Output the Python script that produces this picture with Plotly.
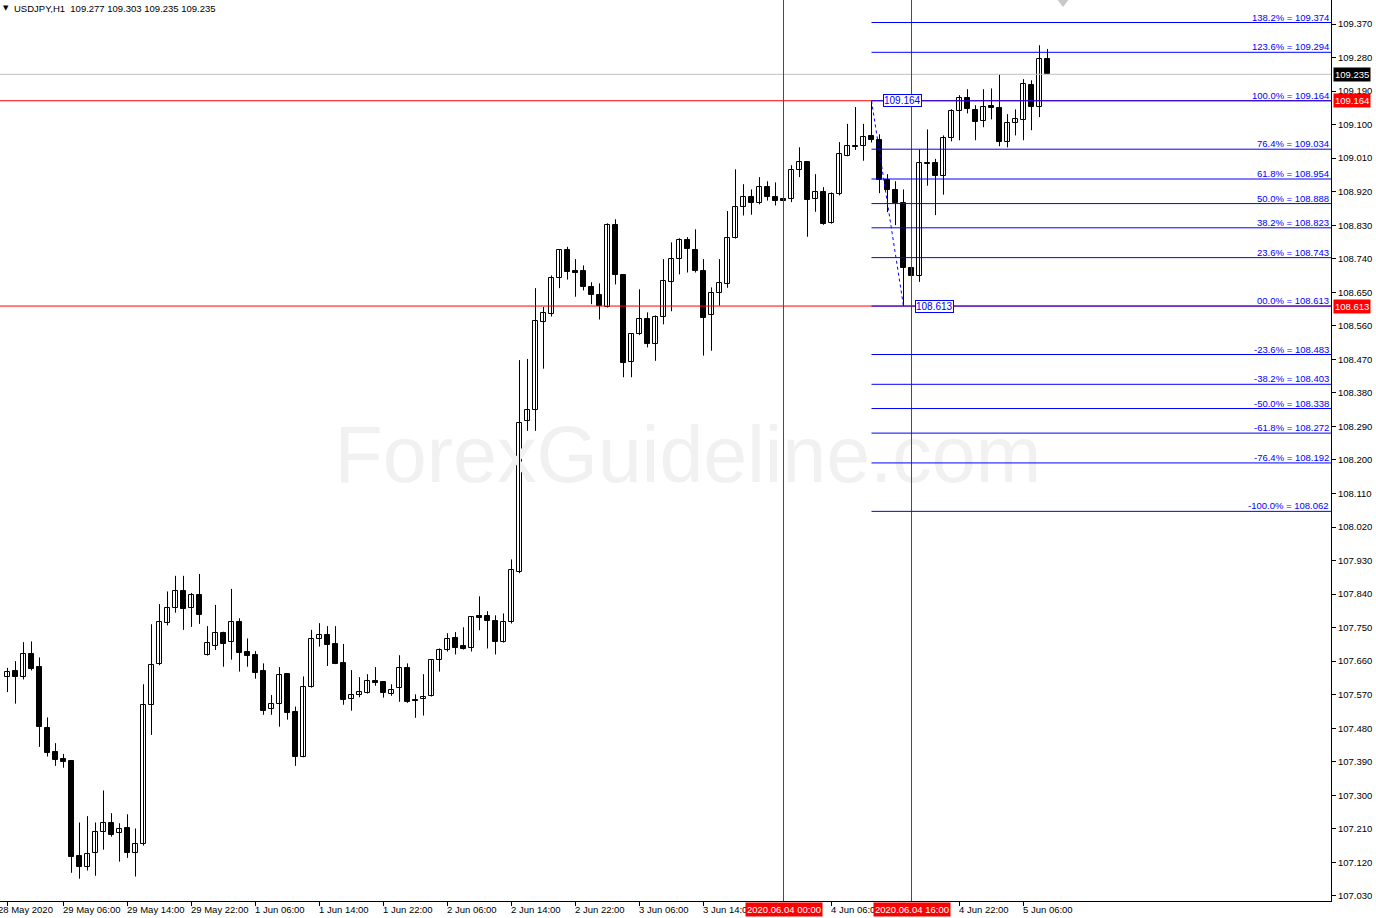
import plotly.graph_objects as go

# ---------------- data (USDJPY H1, bar index 0 = 28 May 23:00) ----------------
opens = [
    107.617, 107.633, 107.617, 107.678, 107.644, 107.480, 107.415, 107.397, 107.391, 107.136,
    107.107, 107.144, 107.201, 107.225, 107.198, 107.211, 107.144, 107.168, 107.542, 107.652,
    107.763, 107.804, 107.848, 107.802, 107.838, 107.677, 107.700, 107.736, 107.711, 107.765,
    107.684, 107.676, 107.633, 107.531, 107.544, 107.625, 107.523, 107.404, 107.591, 107.719,
    107.729, 107.706, 107.654, 107.558, 107.568, 107.575, 107.606, 107.603, 107.573, 107.587,
    107.641, 107.557, 107.558, 107.566, 107.662, 107.689, 107.721, 107.700, 107.694, 107.780,
    107.780, 107.767, 107.711, 107.764, 107.900, 108.304, 108.333, 108.569, 108.591, 108.687,
    108.763, 108.706, 108.706, 108.663, 108.642, 108.610, 108.830, 108.696, 108.462, 108.537,
    108.578, 108.510, 108.583, 108.677, 108.739, 108.790, 108.763, 108.706, 108.588, 108.649,
    108.673, 108.795, 108.878, 108.905, 108.889, 108.932, 108.905, 108.899, 108.899, 108.977,
    108.999, 108.899, 108.918, 108.835, 108.913, 109.017, 109.043, 109.042, 109.069, 109.058,
    108.951, 108.924, 108.889, 108.716, 108.694, 108.998, 108.998, 108.963, 109.063, 109.136,
    109.171, 109.138, 109.109, 109.149, 109.144, 109.052, 109.103, 109.112, 109.205, 109.146,
    109.277]
highs = [
    107.642, 107.660, 107.711, 107.713, 107.670, 107.509, 107.440, 107.411, 107.393, 107.227,
    107.244, 107.227, 107.313, 107.252, 107.225, 107.249, 107.211, 107.598, 107.759, 107.813,
    107.847, 107.889, 107.889, 107.843, 107.894, 107.754, 107.811, 107.739, 107.854, 107.775,
    107.721, 107.687, 107.654, 107.569, 107.644, 107.627, 107.538, 107.619, 107.744, 107.762,
    107.754, 107.754, 107.706, 107.636, 107.617, 107.625, 107.644, 107.605, 107.598, 107.676,
    107.654, 107.571, 107.625, 107.665, 107.694, 107.735, 107.738, 107.751, 107.780, 107.834,
    107.794, 107.783, 107.788, 107.933, 108.468, 108.471, 108.661, 108.611, 108.695, 108.765,
    108.772, 108.739, 108.722, 108.677, 108.674, 108.835, 108.846, 108.698, 108.540, 108.658,
    108.596, 108.588, 108.739, 108.784, 108.795, 108.798, 108.819, 108.739, 108.663, 108.739,
    108.868, 108.980, 108.940, 108.926, 108.959, 108.948, 108.945, 108.901, 108.991, 109.039,
    109.001, 108.967, 108.932, 108.918, 109.053, 109.102, 109.147, 109.102, 109.164, 109.074,
    108.967, 108.948, 108.926, 108.720, 109.033, 109.087, 109.008, 109.071, 109.141, 109.179,
    109.195, 109.152, 109.195, 109.197, 109.235, 109.128, 109.141, 109.222, 109.219, 109.313,
    109.303]
lows = [
    107.577, 107.546, 107.611, 107.635, 107.430, 107.404, 107.379, 107.374, 107.092, 107.076,
    107.098, 107.084, 107.154, 107.189, 107.122, 107.132, 107.082, 107.165, 107.462, 107.649,
    107.756, 107.790, 107.744, 107.752, 107.760, 107.675, 107.690, 107.645, 107.664, 107.632,
    107.645, 107.613, 107.516, 107.516, 107.484, 107.503, 107.379, 107.402, 107.589, 107.699,
    107.647, 107.652, 107.543, 107.527, 107.563, 107.573, 107.594, 107.562, 107.567, 107.551,
    107.548, 107.508, 107.514, 107.565, 107.632, 107.686, 107.678, 107.691, 107.686, 107.743,
    107.694, 107.678, 107.710, 107.761, 107.896, 108.278, 108.278, 108.445, 108.585, 108.661,
    108.684, 108.638, 108.655, 108.618, 108.577, 108.609, 108.671, 108.422, 108.422, 108.535,
    108.502, 108.466, 108.564, 108.599, 108.698, 108.703, 108.703, 108.480, 108.493, 108.614,
    108.662, 108.794, 108.856, 108.858, 108.886, 108.896, 108.883, 108.894, 108.892, 108.959,
    108.799, 108.866, 108.831, 108.834, 108.910, 109.015, 109.032, 109.003, 109.052, 108.916,
    108.865, 108.830, 108.613, 108.690, 108.678, 108.936, 108.857, 108.912, 109.055, 109.058,
    109.130, 109.058, 109.093, 109.114, 109.042, 109.039, 109.071, 109.058, 109.085, 109.120,
    109.235]
closes = [
    107.631, 107.617, 107.678, 107.640, 107.482, 107.414, 107.395, 107.390, 107.135, 107.107,
    107.142, 107.201, 107.225, 107.194, 107.209, 107.144, 107.168, 107.542, 107.649, 107.764,
    107.804, 107.848, 107.801, 107.838, 107.785, 107.708, 107.736, 107.707, 107.765, 107.683,
    107.675, 107.629, 107.527, 107.544, 107.622, 107.522, 107.404, 107.591, 107.719, 107.729,
    107.704, 107.653, 107.556, 107.568, 107.576, 107.606, 107.602, 107.575, 107.582, 107.641,
    107.551, 107.554, 107.563, 107.662, 107.689, 107.719, 107.694, 107.692, 107.778, 107.777,
    107.767, 107.711, 107.764, 107.904, 108.298, 108.333, 108.572, 108.594, 108.687, 108.763,
    108.704, 108.703, 108.663, 108.642, 108.612, 108.830, 108.696, 108.459, 108.537, 108.578,
    108.510, 108.583, 108.679, 108.739, 108.790, 108.765, 108.706, 108.582, 108.649, 108.674,
    108.795, 108.878, 108.905, 108.889, 108.932, 108.905, 108.896, 108.896, 108.977, 108.999,
    108.898, 108.918, 108.832, 108.913, 109.020, 109.043, 109.040, 109.066, 109.058, 108.951,
    108.924, 108.889, 108.716, 108.694, 108.998, 108.995, 108.963, 109.063, 109.136, 109.171,
    109.141, 109.106, 109.146, 109.144, 109.052, 109.103, 109.114, 109.208, 109.146, 109.275,
    109.235]

# visible time-axis labels (bar index -> text)
time_label_idx = [0, 7, 15, 23, 31, 39, 47, 55, 63, 71, 79, 87, 103, 119, 127]
time_labels = ["28 May 2020", "29 May 06:00", "29 May 14:00", "29 May 22:00", "1 Jun 06:00",
               "1 Jun 14:00", "1 Jun 22:00", "2 Jun 06:00", "2 Jun 14:00", "2 Jun 22:00",
               "3 Jun 06:00", "3 Jun 14:00", "4 Jun 06:00", "4 Jun 22:00", "5 Jun 06:00"]

vline_idx = [97, 113]
vline_labels = ["2020.06.04 00:00", "2020.06.04 16:00"]

price_ticks = [107.030, 107.120, 107.210, 107.300, 107.390, 107.480, 107.570, 107.660, 107.750,
               107.840, 107.930, 108.020, 108.110, 108.200, 108.290, 108.380, 108.470, 108.560,
               108.650, 108.740, 108.830, 108.920, 109.010, 109.100, 109.190, 109.280, 109.370]

fib_high, fib_low = 109.164, 108.613
fib_high_idx, fib_low_idx = 108, 112
fib_labels = ["138.2%", "123.6%", "100.0%", "76.4%", "61.8%", "50.0%", "38.2%", "23.6%",
              "00.0%", "-23.6%", "-38.2%", "-50.0%", "-61.8%", "-76.4%", "-100.0%"]
fib_values = [109.374, 109.294, 109.164, 109.034, 108.954, 108.888, 108.823, 108.743,
              108.613, 108.483, 108.403, 108.338, 108.272, 108.192, 108.062]

hline_prices = [109.164, 108.613]
current_price = 109.235
symbol_title = "USDJPY,H1\u00a0\u00a0109.277 109.303 109.235 109.235"
watermark_text = "ForexGuideline.com"

assert len(opens) == len(highs) == len(lows) == len(closes)

# ---------------- figure ----------------
n = len(opens)
X_RANGE = [-0.9375, 165.4375]
Y_RANGE = [107.0163, 109.4344]
FONT = "Liberation Sans, Arial, sans-serif"
BLUE = "#0000ff"
RED = "#ff0000"

fig = go.Figure()

# watermark (behind everything)
fig.add_trace(go.Scatter(
    x=[85.06], y=[108.1945], mode="text", text=[watermark_text],
    textfont=dict(family=FONT, size=79, color="#f1f1f1"),
    hoverinfo="skip", showlegend=False, cliponaxis=False))

# wicks
wx, wy = [], []
for k in range(n):
    wx += [k, k, None]
    wy += [lows[k], highs[k], None]
fig.add_trace(go.Scatter(x=wx, y=wy, mode="lines", line=dict(color="black", width=1),
                         hoverinfo="skip", showlegend=False))

# bodies
fig.add_trace(go.Bar(
    x=list(range(n)),
    base=[min(o, c) for o, c in zip(opens, closes)],
    y=[abs(c - o) for o, c in zip(opens, closes)],
    width=0.55,
    marker=dict(color=["white" if c >= o else "black" for o, c in zip(opens, closes)],
                line=dict(color="black", width=1)),
    hoverinfo="skip", showlegend=False))

# fibo trend line (dotted)
fig.add_trace(go.Scatter(x=[fib_high_idx, fib_low_idx], y=[fib_high, fib_low], mode="lines",
                         line=dict(color=BLUE, width=1, dash="dot"),
                         hoverinfo="skip", showlegend=False))

# chart-shift marker at the top edge
fig.add_trace(go.Scatter(x=[131.94], y=[109.429], mode="markers",
                         marker=dict(symbol="triangle-down", size=10, color="#c8c8c8"),
                         hoverinfo="skip", showlegend=False))

shapes = []
shapes.append(dict(type="line", xref="paper", x0=0, x1=1, yref="y", y0=current_price,
                   y1=current_price, line=dict(color="#c0c0c0", width=1)))
for p in hline_prices:
    shapes.append(dict(type="line", xref="paper", x0=0, x1=1, yref="y", y0=p, y1=p,
                       line=dict(color=RED, width=1)))
for k in vline_idx:
    shapes.append(dict(type="line", xref="x", x0=k, x1=k, yref="paper", y0=0, y1=1,
                       line=dict(color=RED, width=1)))
for v in fib_values:
    shapes.append(dict(type="line", xref="x", x0=fib_high_idx, x1=X_RANGE[1], yref="y",
                       y0=v, y1=v, line=dict(color=BLUE, width=1)))

annotations = []
for lab, v in zip(fib_labels, fib_values):
    annotations.append(dict(xref="paper", x=1, xanchor="right", xshift=-1, yref="y", y=v,
                            yanchor="bottom", yshift=-1, showarrow=False,
                            text=f"{lab} = {v:.3f}", borderpad=0,
                            font=dict(family=FONT, size=9.5, color=BLUE)))
for k, p in [(fib_high_idx, fib_high), (fib_low_idx, fib_low)]:
    annotations.append(dict(xref="x", x=k, xanchor="left", xshift=11, yref="y", y=p,
                            yanchor="middle", showarrow=False, text=f"{p:.3f}",
                            bgcolor="white", bordercolor=BLUE, borderwidth=1, borderpad=0,
                            font=dict(family=FONT, size=10, color=BLUE)))
for k, lab in zip(time_label_idx, time_labels):
    annotations.append(dict(xref="x", x=k, xanchor="left", xshift=-3 if k else -12,
                            yref="paper", y=0, yanchor="top", yshift=-1, showarrow=False,
                            text=lab, font=dict(family=FONT, size=9.5, color="black")))
for k, lab in zip(vline_idx, vline_labels):
    annotations.append(dict(xref="x", x=k, xanchor="center", yref="paper", y=0,
                            yanchor="top", yshift=-1, showarrow=False, text=lab,
                            bgcolor=RED, borderpad=1,
                            font=dict(family=FONT, size=9.5, color="white")))
for p, col in [(current_price, "black"), (hline_prices[0], RED), (hline_prices[1], RED)]:
    annotations.append(dict(xref="paper", x=1, xanchor="left", xshift=2, yref="y", y=p,
                            yanchor="middle", showarrow=False, text=f"{p:.3f}",
                            bgcolor=col, borderpad=1,
                            font=dict(family=FONT, size=9.5, color="white")))
annotations.append(dict(xref="paper", x=0, xanchor="left", xshift=1, yref="paper", y=1,
                        yanchor="top", yshift=-2, showarrow=False, text="\u25bc",
                        font=dict(family="DejaVu Sans", size=7, color="black")))
annotations.append(dict(xref="paper", x=0, xanchor="left", xshift=12, yref="paper", y=1,
                        yanchor="top", yshift=-1, showarrow=False, text=symbol_title,
                        font=dict(family=FONT, size=9.5, color="black")))

fig.update_layout(
    width=1376, height=918,
    margin=dict(l=0, r=45, t=0, b=17, pad=0),
    paper_bgcolor="white", plot_bgcolor="white",
    showlegend=False, hovermode=False, bargap=0,
    shapes=shapes, annotations=annotations,
    xaxis=dict(range=X_RANGE, showgrid=False, zeroline=False, showline=True,
               linecolor="black", linewidth=1, mirror=True,
               tickvals=time_label_idx, ticks="outside", ticklen=4, tickcolor="black",
               showticklabels=False, fixedrange=True),
    yaxis=dict(range=Y_RANGE, side="right", showgrid=False, zeroline=False, showline=True,
               linecolor="black", linewidth=1, tickvals=price_ticks,
               ticktext=[f"{t:.3f}" for t in price_ticks], ticks="outside", ticklen=4,
               tickcolor="black", tickfont=dict(family=FONT, size=9.5, color="black"),
               fixedrange=True),
)

fig.write_html("out.html", config={"displayModeBar": False},
               post_script="document.body.style.margin='0';document.body.style.overflow='hidden';")
